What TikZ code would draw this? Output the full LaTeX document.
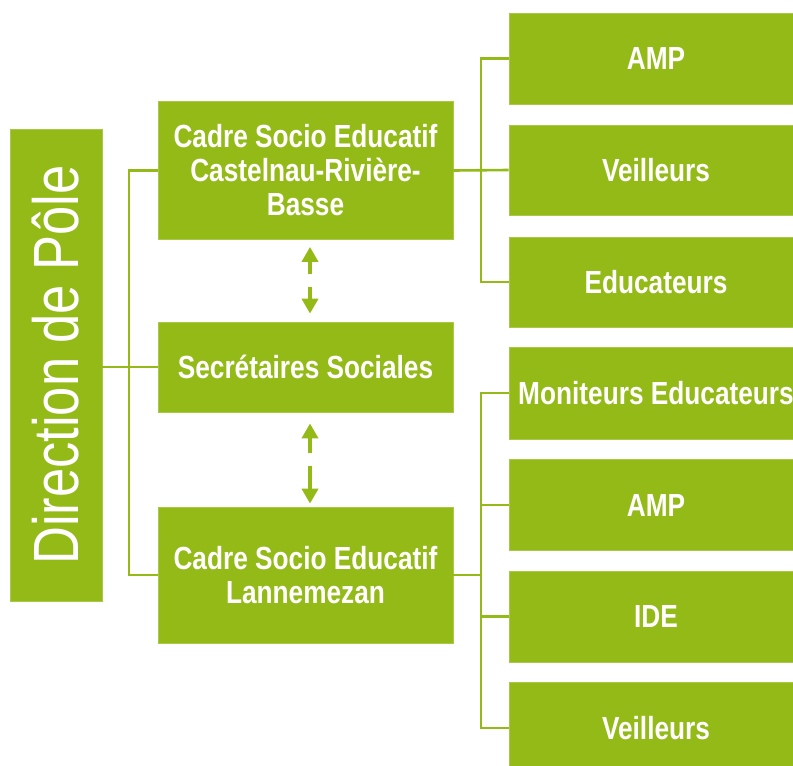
\documentclass[tikz,border=0pt]{standalone}
\usepackage{fontspec}
\newfontfamily\nar{Liberation Sans}[FakeStretch=0.82]
\usetikzlibrary{arrows.meta,calc}
\definecolor{grn}{RGB}{147,186,23}
\begin{document}
\begin{tikzpicture}[x=1pt,y=-1pt,
  box/.style={fill=grn,draw=grn!80!white,line width=0.8pt,text=white,align=center,inner sep=0pt,
    font=\nar\bfseries\fontsize{32}{34}\selectfont},
  conn/.style={draw=grn,line width=2.6pt},
  half/.style={draw=grn,line width=4pt,-{Triangle[width=16pt,length=15pt]}}]
\useasboundingbox (0,0) rectangle (793,766);
% left
\node[box,minimum width=92pt,minimum height=472pt,font=\nar\fontsize{64}{70}\selectfont] (dir) at (56,365)
  {\rotatebox{90}{Direction de Pôle}};
% middle
\node[box,minimum width=295pt,minimum height=138pt] (b1) at (305.5,170.5) {Cadre Socio Educatif\\Castelnau-Rivière-\\Basse};
\node[box,minimum width=295pt,minimum height=90pt] (b2) at (305.5,367) {Secrétaires Sociales};
\node[box,minimum width=295pt,minimum height=136pt] (b3) at (305.5,575) {Cadre Socio Educatif\\Lannemezan};
% right upper
\node[box,minimum width=294pt,minimum height=91pt] (r1) at (656,58.5) {AMP};
\node[box,minimum width=294pt,minimum height=90pt] (r2) at (656,170) {Veilleurs};
\node[box,minimum width=294pt,minimum height=90pt] (r3) at (656,282) {Educateurs};
% right lower
\node[box,minimum width=294pt,minimum height=92pt] (s1) at (656,393) {Moniteurs Educateurs};
\node[box,minimum width=294pt,minimum height=91pt] (s2) at (656,505) {AMP};
\node[box,minimum width=294pt,minimum height=91pt] (s3) at (656,616.5) {IDE};
\node[box,minimum width=294pt,minimum height=92pt] (s4) at (656,728) {Veilleurs};
% junctions
\coordinate (j1) at (129,367);
\coordinate (j2) at (481,170);
\coordinate (j3) at (481,575);
% connectors
\draw[conn] (dir.east |- b2.west) -- (b2.west);
\draw[conn] (b1.west) -| (j1) |- (b3.west);
\draw[conn] (b1.east) -- (r2.west);
\draw[conn] (r1.west) -| (j2) |- (r3.west);
\draw[conn] (b3.east) -- (j3);
\draw[conn] (s1.west) -| (j3) |- (s4.west);
\draw[conn] (j3) |- (s2.west);
\draw[conn] (j3) |- (s3.west);
% dashed double arrows
\coordinate (m1) at ($(b1.south)!0.5!(b2.north)+(4.5,0)$);
\coordinate (m2) at ($(b2.south)!0.5!(b3.north)+(4.5,0)$);
\draw[half,shorten >=7pt] ($(m1)+(0,-6.5)$) -- ([xshift=4.5pt]b1.south);
\draw[half,shorten >=8pt] ($(m1)+(0,6.5)$) -- ([xshift=4.5pt]b2.north);
\draw[half,shorten >=11pt] ($(m2)+(0,-7)$) -- ([xshift=4.5pt]b2.south);
\draw[half,shorten >=3pt] ($(m2)+(0,6)$) -- ([xshift=4.5pt]b3.north);
\end{tikzpicture}
\end{document}
